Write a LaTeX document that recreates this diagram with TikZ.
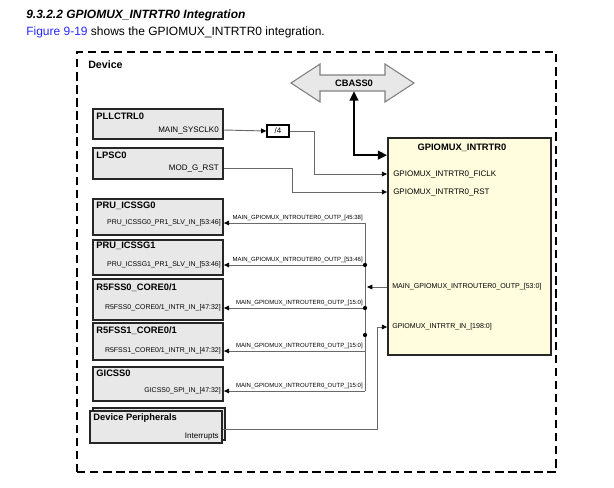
\documentclass[tikz,border=0pt]{standalone}
\usepackage{fontspec}
\setmainfont{Liberation Sans}
\usetikzlibrary{arrows.meta, positioning, calc}
\definecolor{boxgray}{RGB}{232, 232, 232}
\definecolor{chipyellow}{RGB}{255, 253, 222}
\definecolor{linkblue}{RGB}{40, 40, 255}
\definecolor{wiregray}{RGB}{105, 105, 105}

\begin{document}
\begin{tikzpicture}[
  x=0.75pt, y=-0.75pt,
  blk/.style = {rectangle, draw=black!85, line width=1.3pt, fill=boxgray,
                minimum width=97.5pt, inner sep=0pt},
  ttl/.style = {font=\fontsize{7}{8}\selectfont\bfseries, inner sep=0pt, anchor=west},
  sig/.style = {font=\fontsize{5.2}{6}\selectfont, inner sep=0pt, anchor=east},
  pin/.style = {font=\fontsize{6}{7}\selectfont, inner sep=0pt, anchor=west},
  wirelbl/.style = {font=\fontsize{4.5}{5}\selectfont, inner sep=0pt, anchor=south east},
  wire/.style = {wiregray, line width=0.7pt},
  warr/.style = {wire, -{Triangle[length=4pt, width=3.5pt, black]}},
  busarr/.style = {{Triangle[length=7pt, width=6.5pt]}-{Triangle[length=7pt, width=6.5pt]},
                   line width=1.6pt, black},
  jdot/.style = {fill=black}
]
\useasboundingbox (0,0) rectangle (614,487);

% heading
\node[font=\fontsize{9}{10}\selectfont\bfseries\itshape, inner sep=0pt, anchor=west]
  (head) at (26,15) {9.3.2.2 GPIOMUX\_INTRTR0 Integration};
\node[font=\fontsize{9}{10}\selectfont, inner sep=0pt, anchor=west]
  (intro) at (26,32) {\textcolor{linkblue}{Figure 9-19} shows the GPIOMUX\_INTRTR0 integration.};

% device frame
\node[draw, line width=1.8pt, dash pattern=on 6.3pt off 3.5pt,
      minimum width=359.25pt, minimum height=315pt, inner sep=0pt]
  (device) at (316.5,262) {};
\node[ttl, font=\fontsize{8}{9}\selectfont\bfseries] (devT) at (88,65) {Device};

% CBASS0 bus
\draw[draw=gray, fill=boxgray, line width=0.8pt]
  (291,83) -- (320,64) -- (320,75) -- (385,75) -- (385,64) -- (414,83)
  -- (385,102) -- (385,91) -- (320,91) -- (320,102) -- cycle;
\node[font=\fontsize{7}{8}\selectfont\bfseries, minimum width=48.75pt, minimum height=12pt,
      inner sep=0pt] (cbass) at (354,83) {CBASS0};

% GPIOMUX_INTRTR0
\node[rectangle, draw=black!85, line width=1.3pt, fill=chipyellow,
      minimum width=122.25pt, minimum height=162.75pt, inner sep=0pt]
  (gpio) at (469.5,246.5) {};
\node[font=\fontsize{7}{8}\selectfont\bfseries, inner sep=0pt] (gpioT) at (462,148) {GPIOMUX\_INTRTR0};
\node[pin] (ficlk) at (393,174) {GPIOMUX\_INTRTR0\_FICLK};
\node[pin] (rst)   at (393,192) {GPIOMUX\_INTRTR0\_RST};
\node[pin, font=\fontsize{5.3}{6}\selectfont] (outp) at (392,287) {MAIN\_GPIOMUX\_INTROUTER0\_OUTP\_[53:0]};
\node[pin, font=\fontsize{5.3}{6}\selectfont] (gin)  at (392,327) {GPIOMUX\_INTRTR\_IN\_[198:0]};

% left blocks
\node[blk, minimum height=22.5pt]  (pll)  at (158,124)   {};
\node[blk, minimum height=23.25pt] (lpsc) at (158,163.5) {};
\node[blk, minimum height=27pt]    (pru0) at (158,217)   {};
\node[blk, minimum height=26.25pt] (pru1) at (158,257.5) {};
\node[blk, minimum height=30.75pt] (r5f0) at (158,299.5) {};
\node[blk, minimum height=27.75pt] (r5f1) at (158,341.5) {};
\node[blk, minimum height=25.5pt]  (gic)  at (158,384)   {};
\node[blk, minimum width=99pt, minimum height=24pt] (perB) at (159,424) {};
\node[blk, minimum width=99pt, minimum height=24pt] (per)  at (156,427) {};

\node[ttl] at ([shift={(4,8)}]pll.north west)  {PLLCTRL0};
\node[ttl] at ([shift={(4,8)}]lpsc.north west) {LPSC0};
\node[ttl] at ([shift={(4,8)}]pru0.north west) {PRU\_ICSSG0};
\node[ttl] at ([shift={(4,7)}]pru1.north west) {PRU\_ICSSG1};
\node[ttl] at ([shift={(4,10)}]r5f0.north west) {R5FSS0\_CORE0/1};
\node[ttl] at ([shift={(4,9)}]r5f1.north west) {R5FSS1\_CORE0/1};
\node[ttl] at ([shift={(4,7)}]gic.north west)  {GICSS0};
\node[ttl] at ([shift={(4,8)}]per.north west)  {Device Peripherals};

\node[sig, font=\fontsize{6}{7}\selectfont] (pllS)  at (219,130) {MAIN\_SYSCLK0};
\node[sig, font=\fontsize{6}{7}\selectfont] (lpscS) at (219,168) {MOD\_G\_RST};
\node[sig] (pru0S) at (221,223) {PRU\_ICSSG0\_PR1\_SLV\_IN\_[53:46]};
\node[sig] (pru1S) at (221,265) {PRU\_ICSSG1\_PR1\_SLV\_IN\_[53:46]};
\node[sig] (r5f0S) at (221,308) {R5FSS0\_CORE0/1\_INTR\_IN\_[47:32]};
\node[sig] (r5f1S) at (221,351) {R5FSS1\_CORE0/1\_INTR\_IN\_[47:32]};
\node[sig] (gicS)  at (221,391) {GICSS0\_SPI\_IN\_[47:32]};
\node[sig, font=\fontsize{6}{7}\selectfont] (perS) at (219,437) {Interrupts};

% clock divider
\node[rectangle, draw=black, line width=0.9pt, fill=white, minimum width=16.5pt,
      minimum height=9pt, inner sep=0pt, font=\fontsize{6}{7}\selectfont] (div) at (278,131) {/4};

% clock and reset
\draw[warr] (pllS -| pll.east) -- (div.west);
\draw[warr] (div.east) -- ++(25,0) |- (ficlk -| gpio.west);
\draw[warr] (lpscS -| lpsc.east) -- ++(69,0) |- (rst -| gpio.west);

% CBASS0 to GPIOMUX
\draw[busarr] (cbass.south) |- ([yshift=-13.5pt]gpio.north west);

% interrupt outputs
\coordinate (busTop) at (365,223);
\coordinate (busBot) at (365,391);
\draw[wire] (busTop) -- (busBot);
\draw[warr] (outp -| gpio.west) -- ([xshift=1.5pt]outp -| busTop);
\foreach \n/\bits in {pru0/{[45:38]}, pru1/{[53:46]}, r5f0/{[15:0]}, r5f1/{[15:0]}, gic/{[15:0]}} {
  \draw[warr] (\n S -| busTop) -- (\n S -| \n.east);
  \node[wirelbl] at ([shift={(-2,-1.5)}]\n S -| busTop) {MAIN\_GPIOMUX\_INTROUTER0\_OUTP\_\bits};
}
\fill[jdot] (pru1S -| busTop) circle (1.6pt);
\fill[jdot] (r5f0S -| busTop) circle (1.6pt);
\fill[jdot] (365,335) circle (1.6pt);

% peripheral interrupts
\draw[warr] ([yshift=-1.5pt]per.east) -- ++(155,0) |- (gin -| gpio.west);
\end{tikzpicture}
\end{document}
